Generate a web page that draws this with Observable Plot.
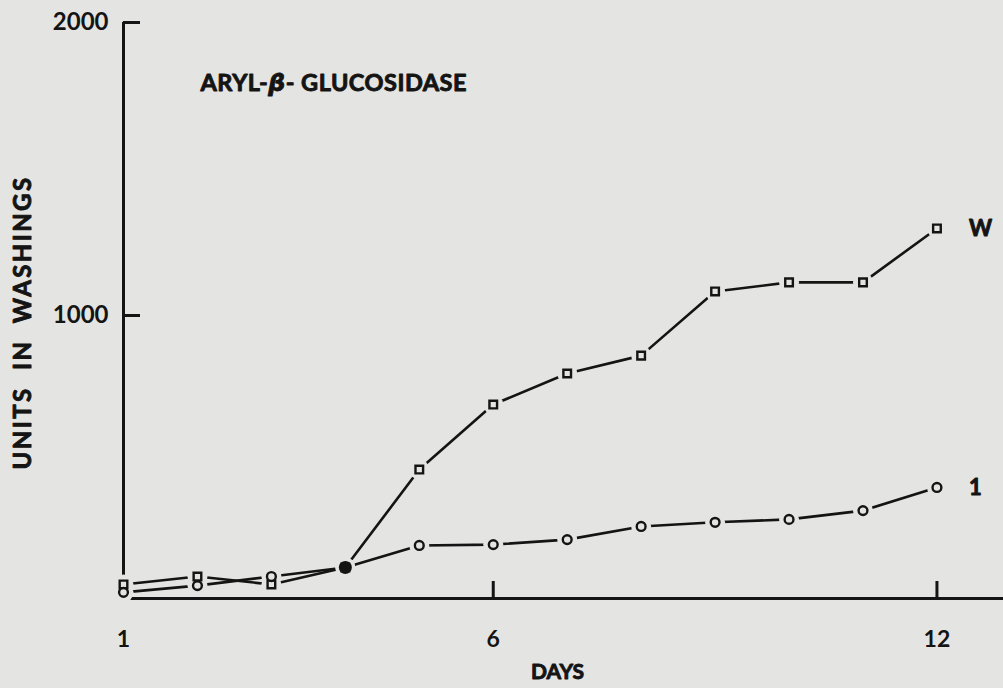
<!DOCTYPE html>
<html><head><meta charset="utf-8">
<script src="https://cdn.jsdelivr.net/npm/d3@7"></script>
<script src="https://cdn.jsdelivr.net/npm/@observablehq/plot@0.6"></script>
<style>html,body{margin:0;padding:0;background:#e4e4e2;}</style>
</head><body><div id="chart"></div>
<script>
const days = [1,2,3,4,5,6,7,8,9,10,11,12];
const washW = [82,109,82,140,474,696,802,863,1082,1113,1113,1297];
const wash1 = [55,78,109,140,215,218,235,280,294,304,334,413];
const seriesNames = ["W","1"];
const xTicks = [1,6,12];
const yTicks = [1000,2000];
const titleText = "ARYL-β- GLUCOSIDASE";
const xLabel = "DAYS";
const yLabel = "UNITS  IN  WASHINGS";
const xDomain = [1, 12.9];
const yDomain = [34, 2000];

const bg = "#e4e4e2", ink = "#141414";
const heavy = {fill: ink, stroke: ink, strokeWidth: 0.9};
const data = [
  ...days.map((d,i)=>({day:d, value:washW[i], series:seriesNames[0]})),
  ...days.map((d,i)=>({day:d, value:wash1[i], series:seriesNames[1]}))
];
const dataW = data.filter(d=>d.series===seriesNames[0]);
const data1 = data.filter(d=>d.series===seriesNames[1]);
const overlap = days.map((d,i)=>({day:d, value:washW[i], same:washW[i]===wash1[i]})).filter(d=>d.same);
const ends = [dataW[dataW.length-1], data1[data1.length-1]];

const chart = Plot.plot({
  width: 1003, height: 688,
  marginLeft: 123, marginRight: 0, marginTop: 22, marginBottom: 90,
  style: {fontFamily: "Lato, sans-serif", fontWeight: "bold", fontSize: "22px", background: bg, color: ink},
  x: {domain: xDomain},
  y: {domain: yDomain},
  marks: [
    Plot.ruleY([yDomain[0]], {stroke: ink, strokeWidth: 3}),
    Plot.ruleX([xDomain[0]], {y1: yDomain[0], y2: yTicks[yTicks.length-1], stroke: ink, strokeWidth: 3}),
    Plot.axisY({ticks: yTicks, tickSize: -17, tickFormat: () => "", label: null, strokeWidth: 3, stroke: ink}),
    Plot.axisY({ticks: yTicks, tickSize: 0, tickPadding: 15, label: null, ...heavy, fontSize: 24, tickFormat: d => String(d)}),
    Plot.axisX({ticks: xTicks.slice(1), tickSize: -17, tickFormat: () => "", label: null, strokeWidth: 3, stroke: ink}),
    Plot.axisX({ticks: xTicks, tickSize: 0, tickPadding: 32, label: null, ...heavy, fontSize: 23, tickFormat: d => String(d)}),
    Plot.line(data, {x: "day", y: "value", z: "series", stroke: ink, strokeWidth: 2.6}),
    Plot.dot(data, {x: "day", y: "value", r: 10, fill: bg, stroke: "none"}),
    Plot.dot(dataW, {x: "day", y: "value", symbol: "square", r: 4.3, stroke: ink, strokeWidth: 2.4, fill: bg}),
    Plot.dot(data1, {x: "day", y: "value", r: 4.4, stroke: ink, strokeWidth: 2.4, fill: bg}),
    Plot.dot(overlap, {x: "day", y: "value", r: 6.5, fill: ink}),
    Plot.text(ends, {x: "day", y: "value", text: "series", dx: 32, textAnchor: "start", ...heavy, fontSize: 22}),
    Plot.text([titleText], {frameAnchor: "top-left", text: d => d, dx: 77, dy: 61, textAnchor: "start", lineAnchor: "middle", ...heavy, fontSize: 23.5}),
    Plot.text([xLabel], {frameAnchor: "bottom", text: d => d, dx: -6, dy: 74, textAnchor: "middle", lineAnchor: "middle", ...heavy, fontSize: 21}),
    Plot.text([yLabel], {frameAnchor: "left", text: d => d, dx: -100, dy: 12, rotate: -90, textAnchor: "middle", lineAnchor: "middle", ...heavy, fontSize: 24})
  ]
});
document.getElementById("chart").appendChild(chart);
const ns = "http://www.w3.org/2000/svg";
chart.querySelectorAll("text").forEach(t => {
  if (t.textContent === titleText) {
    const parts = titleText.split("β");
    t.textContent = "";
    const a = document.createElementNS(ns, "tspan"); a.textContent = parts[0];
    const b = document.createElementNS(ns, "tspan"); b.textContent = "β"; b.setAttribute("font-style", "italic"); b.setAttribute("font-family", "DejaVu Sans");
    const c = document.createElementNS(ns, "tspan"); c.textContent = parts[1];
    t.append(a, b, c);
    t.setAttribute("letter-spacing", "0.5");
  } else if (t.textContent === yLabel) {
    t.setAttribute("letter-spacing", "2.4");
  }
});
</script>
</body></html>
